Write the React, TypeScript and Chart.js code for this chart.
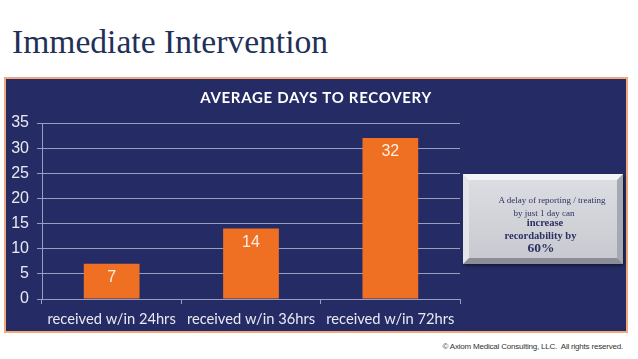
import React, { useEffect, useRef } from 'react';
import { Chart, registerables } from 'chart.js';

Chart.register(...registerables);

const categories = ['received w/in 24hrs', 'received w/in 36hrs', 'received w/in 72hrs'];
const avgDaysToRecovery = [7, 14, 32];
const yMin = 0;
const yMax = 35;
const yStep = 5;
const chartTitle = 'AVERAGE DAYS TO RECOVERY';
const pageTitle = 'Immediate Intervention';
const footerText = '\u00A9 Axiom Medical Consulting, LLC.  All rights reserved.';
const calloutLines = [
  { text: 'A delay of reporting / treating', bold: false, size: 9, top: 20, dx: 9 },
  { text: 'by just 1 day can', bold: false, size: 9, top: 33, dx: 1 },
  { text: 'increase', bold: true, size: 10.5, top: 43, dx: 2 },
  { text: 'recordability by', bold: true, size: 10.5, top: 56, dx: -2.5 },
  { text: '60%', bold: true, size: 13.5, top: 68, dx: -2 },
];

const NAVY = '#252c65';
const ORANGE = '#f07023';
const GRID = '#9a9dbd';
const LABEL = '#e9e9f1';

const titlePlugin = {
  id: 'panelTitle',
  afterDraw(chart: any) {
    const ctx = chart.ctx;
    ctx.save();
    ctx.font = 'bold 15px Lato, "Open Sans", sans-serif';
    try {
      (ctx as any).letterSpacing = '0.7px';
    } catch (e) {}
    ctx.fillStyle = '#ffffff';
    ctx.textAlign = 'center';
    ctx.textBaseline = 'middle';
    ctx.fillText(chartTitle, chart.width / 2, 20);
    ctx.restore();
  },
};

const valueLabelPlugin = {
  id: 'valueLabels',
  afterDatasetsDraw(chart: any) {
    const ctx = chart.ctx;
    const meta = chart.getDatasetMeta(0);
    const data = chart.data.datasets[0].data;
    ctx.save();
    ctx.font = '16px "Liberation Sans", Arial, sans-serif';
    ctx.fillStyle = '#fbeee4';
    ctx.textAlign = 'center';
    ctx.textBaseline = 'middle';
    meta.data.forEach((bar: any, i: number) => {
      ctx.fillText(String(data[i]), bar.x, bar.y + 14);
    });
    ctx.restore();
  },
};

export default function App() {
  const canvasRef = useRef<HTMLCanvasElement | null>(null);

  useEffect(() => {
    if (!canvasRef.current) return;
    const chart = new Chart(canvasRef.current, {
      type: 'bar',
      data: {
        labels: categories,
        datasets: [
          {
            data: avgDaysToRecovery,
            backgroundColor: ORANGE,
            borderWidth: 0,
            barPercentage: 0.4,
            categoryPercentage: 1,
          },
        ],
      },
      options: {
        animation: false,
        responsive: false,
        maintainAspectRatio: false,
        layout: { padding: { top: 45, right: 167, bottom: 0, left: 0 } },
        plugins: {
          legend: { display: false },
          title: { display: false },
          tooltip: { enabled: false },
        },
        scales: {
          x: {
            grid: {
              display: true,
              drawOnChartArea: false,
              drawTicks: true,
              tickLength: 5,
              color: GRID,
            },
            border: { display: true, color: GRID, width: 1 },
            ticks: {
              color: LABEL,
              padding: 6,
              font: { family: 'Lato, "Open Sans", sans-serif', size: 14.7 },
            },
            afterFit(scale: any) {
              scale.height = 33;
            },
          },
          y: {
            min: yMin,
            max: yMax,
            grid: {
              color: GRID,
              lineWidth: 1,
              tickLength: 5,
              drawTicks: true,
            },
            border: { display: true, color: GRID, width: 1 },
            ticks: {
              stepSize: yStep,
              color: LABEL,
              padding: 8,
              font: { family: '"Liberation Sans", Arial, sans-serif', size: 16 },
            },
            afterFit(scale: any) {
              scale.width = 37;
            },
          },
        },
      },
      plugins: [titlePlugin, valueLabelPlugin],
    });
    return () => chart.destroy();
  }, []);

  return (
    <div style={{ position: 'absolute', left: 0, top: 0, width: 638, height: 359, background: '#ffffff', overflow: 'hidden' }}>
      <div
        style={{
          position: 'absolute',
          left: 12,
          top: 22,
          fontFamily: '"Liberation Serif", "Times New Roman", serif',
          fontSize: 33.6,
          lineHeight: '40px',
          color: '#1f3158',
          whiteSpace: 'nowrap',
        }}
      >
        {pageTitle}
      </div>
      <div
        style={{
          position: 'absolute',
          left: 4,
          top: 77,
          width: 624,
          height: 256,
          boxSizing: 'border-box',
          border: '2px solid #f2a878',
          background: NAVY,
        }}
      />
      <canvas
        ref={canvasRef}
        width={622}
        height={254}
        style={{ position: 'absolute', left: 5, top: 78, width: 622, height: 254 }}
      />
      <div
        style={{
          position: 'absolute',
          left: 463,
          top: 174,
          width: 160,
          height: 90,
          boxSizing: 'border-box',
          background: 'linear-gradient(#dcdde2, #c9cad1)',
          borderStyle: 'solid',
          borderWidth: 6,
          borderColor: '#f4f4f6 #a6a8b0 #8c8e97 #e4e5e9',
          boxShadow: '1px 2px 3px rgba(0,0,0,0.45)',
        }}
      >
        {calloutLines.map((l, i) => (
          <div
            key={i}
            style={{
              position: 'absolute',
              left: -6 + l.dx,
              top: l.top - 6,
              width: 160,
              textAlign: 'center',
              fontFamily: '"Liberation Serif", "Times New Roman", serif',
              fontWeight: l.bold ? 'bold' : 'normal',
              fontSize: l.size,
              lineHeight: '12px',
              color: '#2b3163',
              whiteSpace: 'nowrap',
            }}
          >
            {l.text}
          </div>
        ))}
      </div>
      <div
        style={{
          position: 'absolute',
          right: 15,
          top: 341,
          fontFamily: '"Liberation Sans", Arial, sans-serif',
          fontSize: 8,
          lineHeight: '12px',
          color: '#333333',
          whiteSpace: 'pre',
          letterSpacing: -0.2,
        }}
      >
        {footerText}
      </div>
    </div>
  );
}
